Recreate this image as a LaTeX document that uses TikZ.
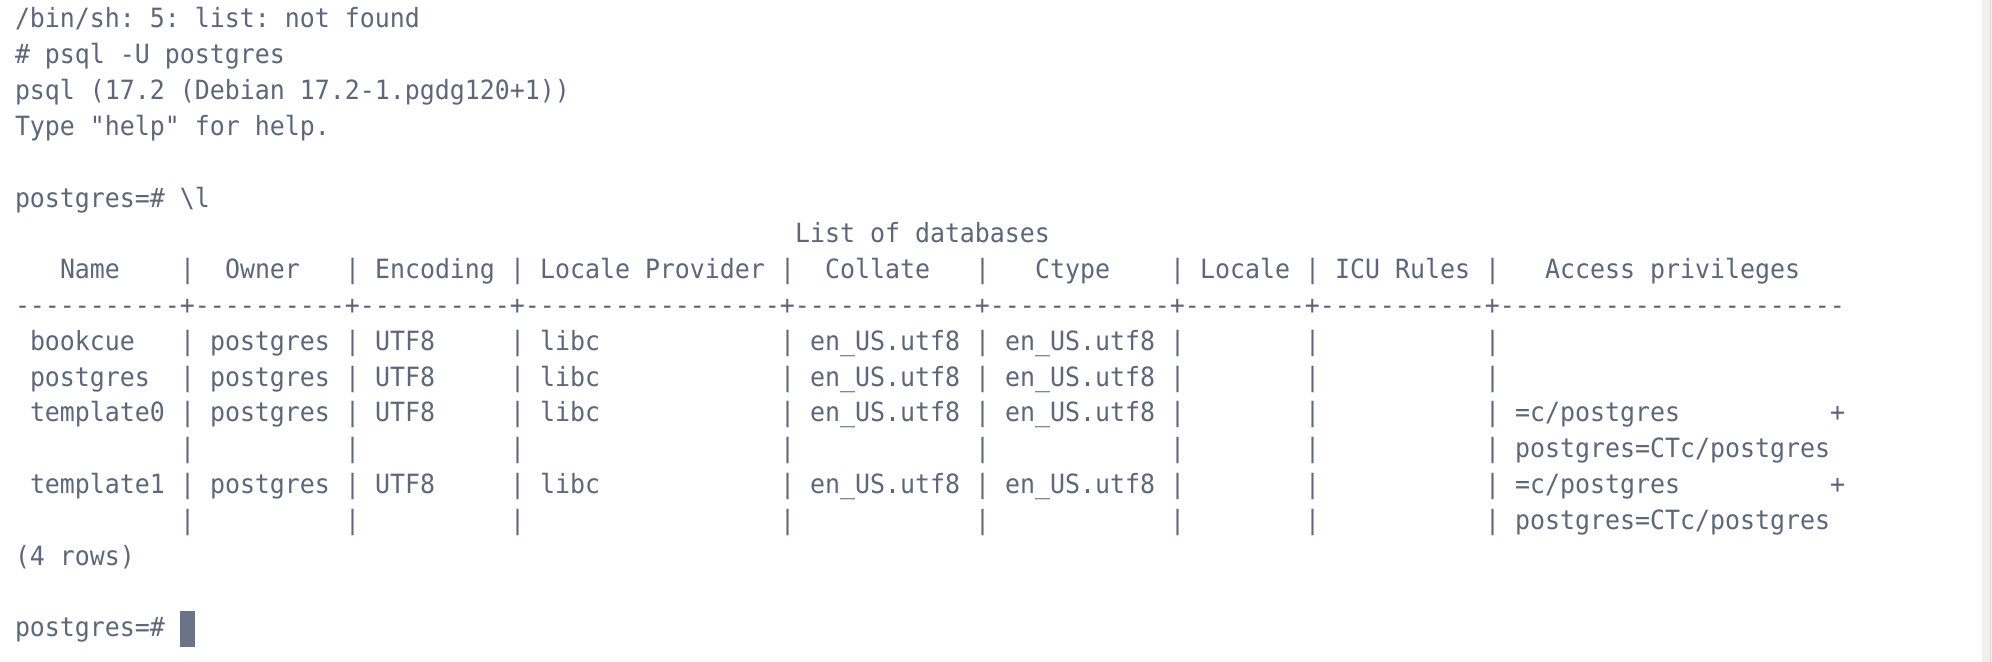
\documentclass[tikz,border=0pt]{standalone}
\usepackage{fontspec}
\setmonofont[FakeStretch=0.9402]{DejaVu Sans Mono}
\definecolor{termtext}{HTML}{5E6779}
\definecolor{termcursor}{HTML}{6B7386}
\definecolor{sbtrack}{HTML}{EFEFEF}
\definecolor{sbline}{HTML}{DCDCE0}
\newcommand\termtxt[4]{\node[txt] (#1) at ({15+15*(#2)},{28+35.8*(#3)}) {#4};}
\newcommand\termpipes[2]{\foreach \c [count=\k] in {11,22,33,51,64,77,86,98} {\node[txt] (#1-\k) at ({15+15*\c},{28+35.8*(#2)}) {|};}}
\begin{document}
\begin{tikzpicture}[x=1bp,y=-1bp,
  txt/.style={anchor=base west, inner sep=0pt, outer sep=0pt, text=termtext,
    font=\ttfamily\fontsize{26.5bp}{36bp}\selectfont},
  cursorbox/.style={fill=termcursor, inner sep=0pt, outer sep=0pt, minimum width=15bp, minimum height=36bp, anchor=north west}]
\useasboundingbox[fill=white] (0,0) rectangle (1992,662);
\fill[sbtrack] (1982,0) rectangle (1992,662);
\fill[sbline] (1990,0) rectangle (1991,662);

\termtxt{l0}{0}{0}{/bin/sh: 5: list: not found}
\termtxt{l1}{0}{1}{\# psql -U postgres}
\termtxt{l2}{0}{2}{psql (17.2 (Debian 17.2-1.pgdg120+1))}
\termtxt{l3}{0}{3}{Type "help" for help.}
\termtxt{l5}{0}{5}{postgres=\# \textbackslash l}
\termtxt{title}{52}{6}{List of databases}

% header
\termtxt{hName}{3}{7}{Name}
\termtxt{hOwner}{14}{7}{Owner}
\termtxt{hEnc}{24}{7}{Encoding}
\termtxt{hProv}{35}{7}{Locale Provider}
\termtxt{hColl}{54}{7}{Collate}
\termtxt{hCtype}{68}{7}{Ctype}
\termtxt{hLoc}{79}{7}{Locale}
\termtxt{hICU}{88}{7}{ICU Rules}
\termtxt{hAcc}{102}{7}{Access privileges}
\termpipes{hp}{7}

\termtxt{sep}{0}{8}{-----------+----------+----------+-----------------+------------+------------+--------+-----------+-----------------------}

% rows
\termtxt{r1name}{1}{9}{bookcue}
\termtxt{r2name}{1}{10}{postgres}
\termtxt{r3name}{1}{11}{template0}
\termtxt{r4name}{1}{13}{template1}
\foreach \r/\ln in {1/9,2/10,3/11,4/13} {
  \termtxt{r\r own}{13}{\ln}{postgres}
  \termtxt{r\r enc}{24}{\ln}{UTF8}
  \termtxt{r\r prov}{35}{\ln}{libc}
  \termtxt{r\r coll}{53}{\ln}{en\_US.utf8}
  \termtxt{r\r ctype}{66}{\ln}{en\_US.utf8}
}
\termpipes{rp1}{9}
\termpipes{rp2}{10}
\termpipes{rp3}{11}
\termpipes{rp3b}{12}
\termpipes{rp4}{13}
\termpipes{rp4b}{14}
\termtxt{r3acc}{100}{11}{=c/postgres}
\termtxt{r3plus}{121}{11}{+}
\termtxt{r3accb}{100}{12}{postgres=CTc/postgres}
\termtxt{r4acc}{100}{13}{=c/postgres}
\termtxt{r4plus}{121}{13}{+}
\termtxt{r4accb}{100}{14}{postgres=CTc/postgres}

\termtxt{rows}{0}{15}{(4 rows)}
\termtxt{prompt}{0}{17}{postgres=\#}
\node[cursorbox] (cursor) at (180,610.7) {};
\end{tikzpicture}
\end{document}
